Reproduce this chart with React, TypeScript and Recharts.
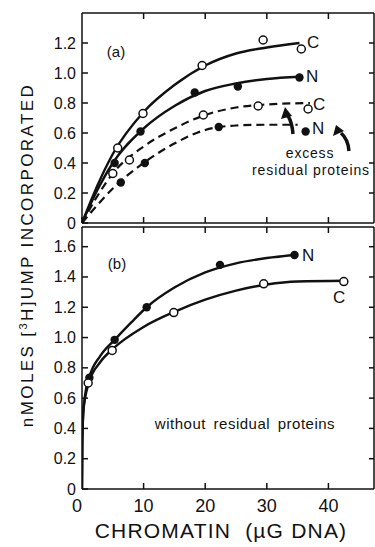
import React from 'react';
import { ComposedChart, Line, Scatter, XAxis, YAxis } from 'recharts';

// x ticks (µg DNA) and y ticks for both panels
const xTicks = [0, 10, 20, 30, 40];
const xTicksTop = [10, 20, 30, 40];
const yTicksA = [0, 0.2, 0.4, 0.6, 0.8, 1.0, 1.2];
const yTicksB = [0, 0.2, 0.4, 0.6, 0.8, 1.0, 1.2, 1.4, 1.6];

// panel (a) — fitted curves
const aCurveC = [[0, 0], [2.5, 0.25], [5, 0.46], [10, 0.74], [15, 0.92], [20, 1.05], [25, 1.13], [30, 1.17], [35.3, 1.2]];
const aCurveN = [[0, 0], [2.5, 0.22], [5, 0.4], [10, 0.63], [15, 0.78], [20, 0.88], [25, 0.93], [30, 0.96], [35.3, 0.975]];
const aCurveCx = [[0, 0], [2.5, 0.18], [5, 0.33], [10, 0.51], [15, 0.63], [20, 0.72], [25, 0.77], [30, 0.79], [37, 0.8]];
const aCurveNx = [[0, 0], [2.5, 0.12], [5, 0.23], [10, 0.4], [15, 0.53], [20, 0.62], [25, 0.65], [30, 0.655], [35, 0.655]];

// panel (a) — measured points
const aPtsC = [[5.8, 0.5], [9.9, 0.73], [19.5, 1.05], [29.4, 1.22], [35.6, 1.16]];
const aPtsN = [[5.3, 0.4], [9.5, 0.61], [18.3, 0.87], [25.3, 0.91], [35.3, 0.97]];
const aPtsCx = [[5.0, 0.33], [7.7, 0.42], [19.7, 0.72], [28.6, 0.78], [36.7, 0.76]];
const aPtsNx = [[6.3, 0.27], [10.2, 0.4], [22.2, 0.64], [36.3, 0.61]];

// panel (b)
const bCurveN = [[0, 0], [0.05, 0.3], [0.2, 0.5], [0.5, 0.62], [1.2, 0.74], [3, 0.88], [5.3, 0.985], [8, 1.1], [10.5, 1.2], [15, 1.33], [20, 1.43], [25, 1.49], [30, 1.525], [34.5, 1.545]];
const bCurveC = [[0, 0], [0.05, 0.3], [0.2, 0.5], [0.5, 0.6], [1.1, 0.7], [3, 0.84], [5, 0.925], [10, 1.07], [15, 1.17], [20, 1.25], [25, 1.31], [30, 1.35], [35, 1.37], [42.5, 1.375]];
const bPtsN = [[1.2, 0.735], [5.3, 0.985], [10.5, 1.2], [22.4, 1.48], [34.5, 1.545]];
const bPtsC = [[1.0, 0.7], [4.9, 0.915], [14.9, 1.165], [29.5, 1.355], [42.5, 1.37]];

const toXY = (arr: number[][]) => arr.map(([x, y]) => ({ x, y }));

const FONT = '"Liberation Sans", Arial, sans-serif';
const INK = '#111';
const X_DOMAIN: [number, number] = [0, 47.4];

const fmt = (v: number) => (v === 0 ? '0' : v.toFixed(1));

const LeftTick = (props: any) => {
  const { x, y, payload } = props;
  return (
    <g>
      <line x1={x} y1={y} x2={x + 6} y2={y} stroke={INK} strokeWidth={1.5} />
      <text x={x - 6} y={y} dy={5.5} textAnchor="end" fontSize={16} fontFamily={FONT} fill={INK}>
        {fmt(payload.value)}
      </text>
    </g>
  );
};

const RightTick = (props: any) => {
  const { x, y } = props;
  return <line x1={x} y1={y} x2={x - 5} y2={y} stroke={INK} strokeWidth={1.5} />;
};

const TopTick = (props: any) => {
  const { x, y } = props;
  return <line x1={x} y1={y} x2={x} y2={y + 6} stroke={INK} strokeWidth={1.5} />;
};

const BottomTickBare = (props: any) => {
  const { x, y } = props;
  return <line x1={x} y1={y} x2={x} y2={y - 6} stroke={INK} strokeWidth={1.5} />;
};

const BottomTick = (props: any) => {
  const { x, y, payload } = props;
  return (
    <g>
      {payload.value !== 0 && <line x1={x} y1={y} x2={x} y2={y - 6} stroke={INK} strokeWidth={1.5} />}
      <text x={payload.value === 0 ? x - 5 : x} y={y} dy={23} textAnchor="middle" fontSize={18} fontFamily={FONT} fill={INK}>
        {payload.value}
      </text>
    </g>
  );
};

const openDot = (p: any) => <circle cx={p.cx} cy={p.cy} r={4} fill="#fff" stroke={INK} strokeWidth={1.5} />;
const filledDot = (p: any) => <circle cx={p.cx} cy={p.cy} r={4.2} fill={INK} />;

const axisLine = { stroke: INK, strokeWidth: 1.5 };

const Frame = (domain: [number, number], ticks: number[], bottomTick: any, bottomHeight: number) => [
  <XAxis key="xb" xAxisId={0} dataKey="x" type="number" domain={X_DOMAIN} ticks={xTicks} interval={0}
    tickSize={0} tickMargin={0} tickLine={false} axisLine={axisLine} tick={bottomTick} height={bottomHeight} allowDataOverflow />,
  <XAxis key="xt" xAxisId="top" orientation="top" dataKey="x" type="number" domain={X_DOMAIN} ticks={xTicksTop} interval={0}
    tickSize={0} tickMargin={0} tickLine={false} axisLine={axisLine} tick={TopTick} height={1} allowDataOverflow />,
  <YAxis key="yl" yAxisId={0} type="number" domain={domain} ticks={ticks} interval={0}
    tickSize={0} tickMargin={0} tickLine={false} axisLine={axisLine} tick={LeftTick} width={50} allowDataOverflow />,
  <YAxis key="yr" yAxisId="right" orientation="right" type="number" domain={domain} ticks={ticks.slice(1)} interval={0}
    tickSize={0} tickMargin={0} tickLine={false} axisLine={axisLine} tick={RightTick} width={1} allowDataOverflow />,
];

const solid = { stroke: INK, strokeWidth: 2.4, dot: false, activeDot: false, isAnimationActive: false, type: 'monotone' as const, dataKey: 'y' };
const dashed = { ...solid, strokeWidth: 2.2, strokeDasharray: '8 5' };

const PanelA = () => (
  <ComposedChart width={375} height={236} margin={{ top: 12, right: 0, bottom: 12, left: 32 }}>
    {Frame([0, 1.4], yTicksA, BottomTickBare, 1)}
    <Line data={toXY(aCurveC)} {...solid} />
    <Line data={toXY(aCurveN)} {...solid} />
    <Line data={toXY(aCurveCx)} {...dashed} />
    <Line data={toXY(aCurveNx)} {...dashed} />
    <Scatter data={toXY(aPtsC)} dataKey="y" shape={openDot} isAnimationActive={false} />
    <Scatter data={toXY(aPtsN)} dataKey="y" shape={filledDot} isAnimationActive={false} />
    <Scatter data={toXY(aPtsCx)} dataKey="y" shape={openDot} isAnimationActive={false} />
    <Scatter data={toXY(aPtsNx)} dataKey="y" shape={filledDot} isAnimationActive={false} />
  </ComposedChart>
);

const PanelB = () => (
  <ComposedChart width={375} height={323} margin={{ top: 2, right: 0, bottom: 8, left: 32 }}>
    {Frame([0, 1.73], yTicksB, BottomTick, 50)}
    <Line data={toXY(bCurveN)} {...solid} />
    <Line data={toXY(bCurveC)} {...solid} />
    <Scatter data={toXY(bPtsN)} dataKey="y" shape={filledDot} isAnimationActive={false} />
    <Scatter data={toXY(bPtsC)} dataKey="y" shape={openDot} isAnimationActive={false} />
  </ComposedChart>
);

const label = { fontFamily: FONT, fill: INK } as const;

export default function App() {
  return (
    <div style={{ position: 'absolute', left: 0, top: 0, width: 375, height: 547, overflow: 'hidden', background: '#fff' }}>
      <div style={{ position: 'absolute', left: 0, top: 0 }}>
        <PanelA />
      </div>
      <div style={{ position: 'absolute', left: 0, top: 224 }}>
        <PanelB />
      </div>
      <svg width={375} height={547} style={{ position: 'absolute', left: 0, top: 0, pointerEvents: 'none' }}>
        <text transform="translate(33,255) rotate(-90)" textAnchor="middle" fontSize={17} letterSpacing={2.4} {...label}>
          nMOLES [<tspan fontSize={11} dy={-6}>3</tspan><tspan dy={6}>H]UMP INCORPORATED</tspan>
        </text>
        <text x={221} y={538} textAnchor="middle" fontSize={21} letterSpacing={1.2} style={{ whiteSpace: 'pre' }} {...label}>
          {'CHROMATIN  (µG DNA)'}
        </text>

        <text x={116} y={57} textAnchor="middle" fontSize={15} {...label}>(a)</text>
        <text x={307} y={48} fontSize={17} {...label}>C</text>
        <text x={306} y={82} fontSize={17} {...label}>N</text>
        <text x={313} y={110} fontSize={17} {...label}>C</text>
        <text x={312} y={134} fontSize={17} {...label}>N</text>
        <text x={310} y={158} textAnchor="middle" fontSize={14} letterSpacing={0.8} {...label}>excess</text>
        <text x={311} y={175} textAnchor="middle" fontSize={14} letterSpacing={0.9} {...label}>residual proteins</text>

        <path d="M 293 134 Q 292 122 288 116" stroke={INK} strokeWidth={3.5} fill="none" />
        <polygon points="285,107 281,119 292,116" fill={INK} />
        <path d="M 349 151 Q 348 139 341 133" stroke={INK} strokeWidth={3.5} fill="none" />
        <polygon points="336,125 333,136 344,131" fill={INK} />

        <text x={117} y={269} textAnchor="middle" fontSize={15} {...label}>(b)</text>
        <text x={302} y={261} fontSize={17} {...label}>N</text>
        <text x={333} y={303} fontSize={17} {...label}>C</text>
        <text x={245} y={429} textAnchor="middle" fontSize={15} letterSpacing={0.5} wordSpacing={3} {...label}>
          without residual proteins
        </text>
      </svg>
    </div>
  );
}
